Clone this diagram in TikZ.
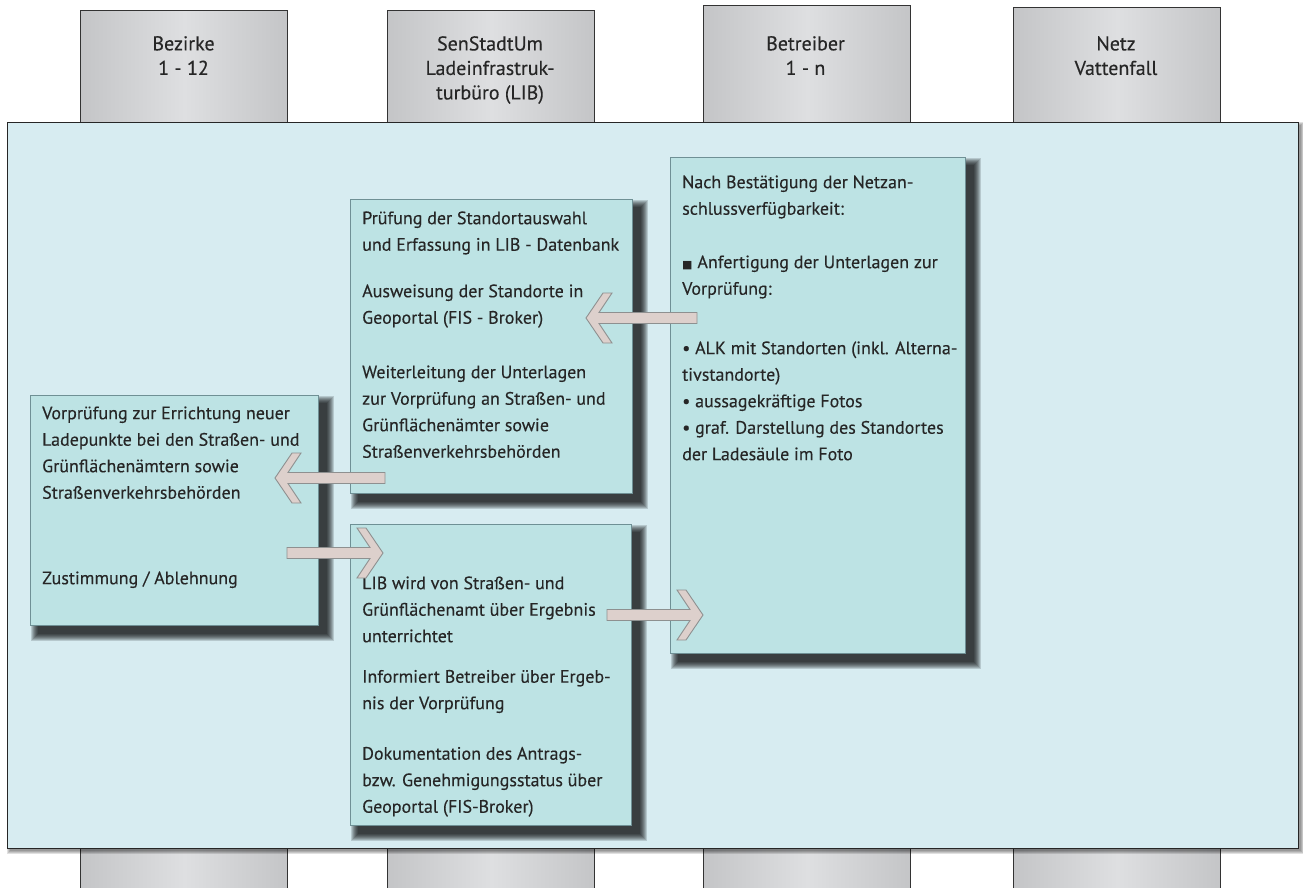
\documentclass[tikz,border=0pt]{standalone}
\usepackage{fontspec}
\setmainfont{PT Sans}
\newfontfamily\bodyf{PT Sans}[FakeBold=0.25]
\newfontfamily\symf{DejaVu Sans}
\definecolor{mainfill}{HTML}{D7ECF1}
\definecolor{boxfill}{HTML}{BDE3E4}
\definecolor{boxline}{HTML}{6F9095}
\definecolor{hdrmid}{HTML}{DEDFE1}
\definecolor{hdredge}{HTML}{C4C5C7}
\definecolor{arrfill}{HTML}{DDD0CC}
\definecolor{arrline}{HTML}{8E9090}
\definecolor{txtc}{HTML}{262626}
\pgfdeclarelayer{back}
\pgfdeclarelayer{mid}
\pgfsetlayers{back,mid,main}
\newcommand\chevarr[3]{%
  \draw[arrsty] (#2) -- ([shift={({-17*(#3)},-25)}]#2) -- ([shift={({-26*(#3)},-25)}]#2)
    -- ([shift={({-13*(#3)},-5.5)}]#2) -- ([shift={(0,-5.5)}]#1) -- ([shift={(0,5.5)}]#1)
    -- ([shift={({-13*(#3)},5.5)}]#2) -- ([shift={({-26*(#3)},25)}]#2)
    -- ([shift={({-17*(#3)},25)}]#2) -- cycle;}
\newcommand\dropshadow[3]{% node, offset, layers
  \begin{pgfonlayer}{mid}
  \foreach \e in {0,...,#3}{%
    \fill[black,opacity=0.15] ([shift={(#2-\e,#2-\e)}]#1.north west) rectangle ([shift={(#2+\e,#2+\e)}]#1.south east);}
  \end{pgfonlayer}}
\begin{document}
\begin{tikzpicture}[x=1pt,y=-1pt,
  hdr/.style={anchor=north west, inner sep=0pt, draw=black!80, line width=1.2pt,
    left color=hdredge, right color=hdredge, middle color=hdrmid, minimum width=207pt},
  hdrtxt/.style={anchor=north, inner sep=0pt, align=center, text=txtc,
    font=\bodyf\fontsize{20}{24.5}\selectfont},
  mainbox/.style={anchor=north west, inner sep=0pt, fill=mainfill, draw=black!85, line width=1.4pt},
  ibox/.style={anchor=north west, inner sep=0pt, fill=boxfill, draw=boxline, line width=0.8pt},
  btxt/.style={anchor=north west, inner sep=0pt, align=left, text=txtc,
    font=\bodyf\fontsize{18}{26.5}\selectfont},
  arrsty/.style={fill=arrfill, draw=arrline, line width=0.9pt, line join=miter}]
\useasboundingbox (0,0) rectangle (1303,887);
\begin{pgfonlayer}{back}
% column headers
\node[hdr, minimum height=112pt] (h1) at (80,10) {};
\node[hdr, minimum height=112pt] (h2) at (387,10) {};
\node[hdr, minimum height=117pt] (h3) at (703,5) {};
\node[hdr, minimum height=115pt] (h4) at (1013,7) {};
% bottom stubs
\node[hdr, minimum height=50pt] (s1) at (80,845) {};
\node[hdr, minimum height=50pt] (s2) at (387,845) {};
\node[hdr, minimum height=50pt] (s3) at (703,845) {};
\node[hdr, minimum height=50pt] (s4) at (1013,845) {};
% main panel
\foreach \e in {0,...,3}{\fill[black,opacity=0.12] ([shift={(3-\e,3-\e)}]7,122) rectangle ([shift={(3+\e,3+\e)}]1298,848);}
\node[mainbox, minimum width=1291pt, minimum height=726pt] (main) at (7,122) {};
\end{pgfonlayer}
% header texts
\node[hdrtxt] (t1) at (183.5,36) {\rule{0pt}{14pt}Bezirke\\1 - 12};
\node[hdrtxt] (t2) at (490,36) {\rule{0pt}{14pt}SenStadtUm\\Ladeinfrastruk-\\turbüro (LIB)};
\node[hdrtxt] (t3) at (805.5,36) {\rule{0pt}{14pt}Betreiber\\1 - n};
\node[hdrtxt] (t4) at (1116,36) {\rule{0pt}{14pt}Netz\\Vattenfall};
% inner boxes
\node[ibox, minimum width=282pt, minimum height=294pt] (bpr) at (350,199) {};
\node[ibox, minimum width=295pt, minimum height=496pt] (bnetz) at (670,157) {};
\node[ibox, minimum width=288pt, minimum height=230pt] (bvor) at (30,395) {};
\node[ibox, minimum width=281pt, minimum height=301pt] (blib) at (350,524) {};
\dropshadow{bpr}{8}{7}
\dropshadow{bnetz}{8}{7}
\dropshadow{bvor}{8}{7}
\dropshadow{blib}{8}{7}
% texts
\node[btxt] (xpr) at (362,211) {\rule{0pt}{13pt}Prüfung der Standortauswahl\\
und Erfassung in LIB - Datenbank\\[20pt]
Ausweisung der Standorte in\\
Geoportal (FIS - Broker)\\[28pt]
Weiterleitung der Unterlagen\\
zur Vorprüfung an Straßen- und\\
Grünflächenämter sowie\\
Straßenverkehrsbehörden};
\node[btxt] (xnetz) at (682,175) {\rule{0pt}{13pt}Nach Bestätigung der Netzan-\\
schlussverfügbarkeit:\\[27pt]
{\symf\fontsize{11}{12}\selectfont ■} Anfertigung der Unterlagen zur\\
Vorprüfung:\\[33pt]
• ALK mit Standorten (inkl. Alterna-\\
tivstandorte)\\
• aussagekräftige Fotos\\
• graf. Darstellung des Standortes\\
der Ladesäule im Foto};
\node[btxt] (xvor) at (42,406) {\rule{0pt}{13pt}Vorprüfung zur Errichtung neuer\\
Ladepunkte bei den Straßen- und\\
Grünflächenämtern sowie\\
Straßenverkehrsbehörden\\[59pt]
Zustimmung / Ablehnung};
\node[btxt] (xlib) at (362,576) {\rule{0pt}{13pt}LIB wird von Straßen- und\\
Grünflächenamt über Ergebnis\\
unterrichtet\\[14pt]
Informiert Betreiber über Ergeb-\\
nis der Vorprüfung\\[24pt]
Dokumentation des Antrags-\\
bzw. Genehmigungsstatus über\\
Geoportal (FIS-Broker)};
% arrows
\coordinate (a1s) at (697,318); \coordinate (a1e) at (586,318);
\coordinate (a2s) at (385,478); \coordinate (a2e) at (275,478);
\coordinate (a3s) at (287,553); \coordinate (a3e) at (383,553);
\coordinate (a4s) at (607,615); \coordinate (a4e) at (703,615);
\chevarr{a1s}{a1e}{-1}
\chevarr{a2s}{a2e}{-1}
\chevarr{a3s}{a3e}{1}
\chevarr{a4s}{a4e}{1}
\end{tikzpicture}
\end{document}
